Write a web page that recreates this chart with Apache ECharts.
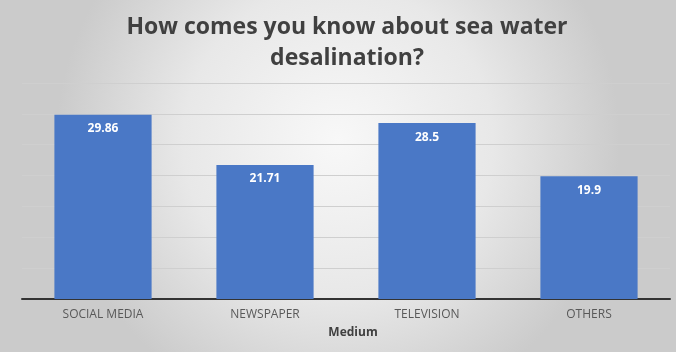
<!DOCTYPE html>
<html><head><meta charset="utf-8">
<script src="https://cdn.jsdelivr.net/npm/echarts@6/dist/echarts.min.js"></script>
<style>html,body{margin:0;padding:0;}#c{width:676px;height:352px;}</style>
</head><body><div id="c"></div>
<script>
const categories = ['SOCIAL MEDIA', 'NEWSPAPER', 'TELEVISION', 'OTHERS'];
const values = [29.86, 21.71, 28.5, 19.9];
const valueLabels = ['29.86', '21.71', '28.5', '19.9'];
const titleText = 'How comes you know about sea water\ndesalination?';
const xAxisName = 'Medium';

const chart = echarts.init(document.getElementById('c'));
chart.setOption({
  backgroundColor: {
    type: 'radial', x: 0.5, y: 0.4, r: 0.8,
    colorStops: [
      {offset: 0, color: '#f8f8f8'},
      {offset: 0.55, color: '#e8e8e8'},
      {offset: 1, color: '#cbcbcb'}
    ]
  },
  title: {
    text: titleText, left: 342, top: 7, textAlign: 'center',
    textStyle: {fontFamily: 'Open Sans', fontWeight: 'bold', fontSize: 23, color: '#404040', lineHeight: 31}
  },
  grid: {left: 22, right: 6, top: 83, bottom: 53, containLabel: false},
  xAxis: {
    type: 'category', data: categories,
    axisLine: {lineStyle: {color: '#333', width: 2}},
    axisTick: {show: false},
    axisLabel: {color: '#595959', fontSize: 12, fontFamily: 'Open Sans', margin: 10},
    name: xAxisName, nameLocation: 'middle', nameGap: 28,
    nameTextStyle: {color: '#404040', fontWeight: 'bold', fontSize: 12, fontFamily: 'Open Sans', padding: [0, 0, 0, 14]}
  },
  yAxis: {
    type: 'value', min: 0, max: 35, interval: 5,
    axisLabel: {show: false}, axisLine: {show: false}, axisTick: {show: false},
    splitLine: {lineStyle: {color: '#cfcfcf', width: 1}}
  },
  series: [{
    type: 'bar', data: values, barWidth: '60%',
    itemStyle: {color: '#4a78c6'},
    label: {
      show: true, position: 'insideTop', distance: 8,
      formatter: p => valueLabels[p.dataIndex],
      color: '#ffffff', fontWeight: 'bold', fontSize: 12, fontFamily: 'Open Sans'
    }
  }],
  animation: false
});
</script></body></html>
